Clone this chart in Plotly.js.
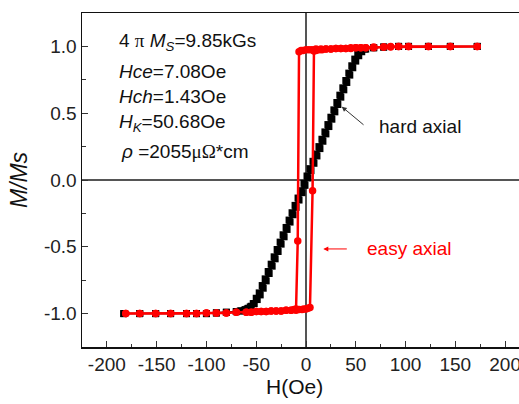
<!DOCTYPE html>
<html>
<head>
<meta charset="utf-8">
<script src="https://cdn.plot.ly/plotly-3.0.1.min.js"></script>
<style>
html, body { margin:0; padding:0; overflow:hidden; background:#fff; }
#chart { width:545px; height:404px; }
</style>
</head>
<body>
<div id="chart"></div>
<script>
// Hard axial (black) – descending and ascending branches
const hardDescH = [172,145,123,103,93,78,68,59,55,52,49,46,43,40,37,34,31,28,25,22,19,16,13,10,7,4,1,-2,-5,-8,-11,-14,-17,-20,-23,-26,-29,-32,-35,-38,-41,-44,-47,-50,-53,-56,-59,-62,-66,-70,-80,-90,-100,-110,-120,-136,-151,-167,-183];
const hardDescM = [1.0,1.0,1.0,1.0,1.0,0.995,0.99,0.98,0.965,0.94,0.905,0.855,0.80,0.745,0.69,0.635,0.58,0.525,0.47,0.415,0.36,0.305,0.25,0.195,0.14,0.085,0.03,-0.025,-0.08,-0.135,-0.19,-0.245,-0.30,-0.355,-0.41,-0.465,-0.52,-0.575,-0.63,-0.685,-0.74,-0.79,-0.845,-0.885,-0.925,-0.95,-0.965,-0.975,-0.98,-0.985,-0.99,-0.995,-1.0,-1.0,-1.0,-1.0,-1.0,-1.0,-1.0];
const hardAscH = [-183,-167,-151,-136,-120,-110,-100,-90,-80,-70,-65,-61,-58,-55,-52,-49,-46,-43,-40,-37,-34,-31,-28,-25,-22,-19,-16,-13,-10,-7,-4,-1,2,5,8,11,14,17,20,23,26,29,32,35,38,41,44,47,50,53,56,60,68,78,93,103,123,145,172];
const hardAscM = [-1.0,-1.0,-1.0,-1.0,-1.0,-1.0,-1.0,-0.995,-0.99,-0.985,-0.98,-0.97,-0.96,-0.945,-0.925,-0.895,-0.86,-0.81,-0.755,-0.70,-0.645,-0.59,-0.535,-0.48,-0.425,-0.37,-0.315,-0.26,-0.205,-0.15,-0.095,-0.04,0.015,0.07,0.125,0.18,0.235,0.29,0.345,0.40,0.455,0.51,0.565,0.62,0.675,0.73,0.785,0.84,0.89,0.93,0.96,0.98,0.99,0.995,1.0,1.0,1.0,1.0,1.0];

// Easy axial (red) – descending and ascending branches
const easyDescH = [172,145,123,103,93,85,78,68,60,55,50,45,40,35,30,25,20,15,10,6,3,0,-3,-5,-7,-8.3,-10,-12,-15,-20,-25,-30,-35,-40,-45,-50,-55,-60,-70,-80,-90,-100,-110,-120,-136,-151,-167,-181];
const easyDescM = [1.0,1.0,1.0,1.0,1.0,0.995,0.995,0.99,0.99,0.99,0.99,0.985,0.985,0.985,0.985,0.98,0.98,0.98,0.98,0.975,0.975,0.975,0.97,0.97,0.96,-0.457,-0.965,-0.97,-0.975,-0.975,-0.98,-0.98,-0.98,-0.985,-0.985,-0.985,-0.99,-0.99,-0.99,-0.995,-0.995,-0.995,-1.0,-1.0,-1.0,-1.0,-1.0,-1.0];
const easyAscH = [-181,-167,-151,-136,-120,-110,-100,-90,-80,-70,-60,-55,-50,-45,-40,-35,-30,-25,-20,-15,-10,-7,-4,-2,0,2,4,6.6,8,10,13,16,20,25,30,35,40,45,50,55,60,68,78,85,93,103,123,145,172];
const easyAscM = [-1.0,-1.0,-1.0,-1.0,-1.0,-1.0,-0.995,-0.995,-0.995,-0.99,-0.99,-0.99,-0.985,-0.985,-0.985,-0.98,-0.98,-0.98,-0.975,-0.975,-0.975,-0.97,-0.97,-0.965,-0.965,-0.96,-0.955,-0.08,0.965,0.97,0.975,0.975,0.98,0.98,0.985,0.985,0.985,0.99,0.99,0.99,0.99,0.995,0.995,1.0,1.0,1.0,1.0,1.0,1.0];

const xTickVals = [-200,-150,-100,-50,0,50,100,150,200];
const xTickText = ['-200','-150','-100','-50','0','50','100','150','200'];
const yTickVals = [-1.0,-0.5,0.0,0.5,1.0];
const yTickText = ['-1.0','-0.5','0.0','0.5','1.0'];

const FONT = 'Arial, "Liberation Sans", sans-serif';

const traces = [
  {
    x: hardDescH.concat(hardAscH),
    y: hardDescM.concat(hardAscM),
    mode: 'lines+markers',
    line: {color:'#000000', width:1.5},
    marker: {symbol:'square', size:7, color:'#000000'},
    hoverinfo:'skip', showlegend:false
  },
  {
    x: easyDescH.concat(easyAscH),
    y: easyDescM.concat(easyAscM),
    mode: 'lines+markers',
    line: {color:'#ff0000', width:2.5},
    marker: {symbol:'circle', size:7.5, color:'#ff0000'},
    hoverinfo:'skip', showlegend:false
  }
];

const txt = {family: FONT, size: 19, color:'#111'};
const layout = {
  width: 545, height: 404,
  margin: {l:82, r:15, t:13, b:57},
  paper_bgcolor:'#ffffff', plot_bgcolor:'#ffffff',
  showlegend:false,
  xaxis: {
    range:[-225,225], autorange:false,
    tickmode:'array', tickvals:xTickVals, ticktext:xTickText,
    ticks:'inside', ticklen:6, tickwidth:1, tickcolor:'#333',
    minor:{dtick:25, tick0:0, ticks:'inside', ticklen:3.5, tickwidth:1, tickcolor:'#333'},
    showline:true, linecolor:'#111', linewidth:1.5, mirror:true,
    showgrid:false,
    zeroline:true, zerolinecolor:'#555', zerolinewidth:1.2,
    tickfont:{family:FONT, size:19, color:'#222'}
  },
  yaxis: {
    range:[-1.25,1.25], autorange:false,
    tickmode:'array', tickvals:yTickVals, ticktext:yTickText,
    ticks:'inside', ticklen:6, tickwidth:1, tickcolor:'#333',
    minor:{dtick:0.25, tick0:0, ticks:'inside', ticklen:3.5, tickwidth:1, tickcolor:'#333'},
    showline:true, linecolor:'#111', linewidth:1.5, mirror:true,
    showgrid:false,
    zeroline:true, zerolinecolor:'#555', zerolinewidth:1.2,
    tickfont:{family:FONT, size:19, color:'#222'},
    title:{text:'<i>M/Ms</i>', font:{family:FONT, size:23, color:'#111'}, standoff:10}
  },
  annotations: [
    {x:0.4754, y:-0.117, xref:'paper', yref:'paper', xanchor:'center', yanchor:'middle', showarrow:false,
     font:{family:FONT, size:21, color:'#111'}, text:'H(Oe)'},
    {x:-190, y:1.035, xref:'x', yref:'y', xanchor:'left', yanchor:'middle', showarrow:false, font:txt,
     text:'4 <span style="font-family:\'Liberation Serif\',serif">π</span> <i>M</i><sub><i>S</i></sub>=9.85kGs'},
    {x:-190, y:0.81, xref:'x', yref:'y', xanchor:'left', yanchor:'middle', showarrow:false, font:txt,
     text:'<i>Hce</i>=7.08Oe'},
    {x:-190, y:0.623, xref:'x', yref:'y', xanchor:'left', yanchor:'middle', showarrow:false, font:txt,
     text:'<i>Hch</i>=1.43Oe'},
    {x:-190, y:0.43, xref:'x', yref:'y', xanchor:'left', yanchor:'middle', showarrow:false, font:txt,
     text:'<i>H</i><sub><i>K</i></sub>=50.68Oe'},
    {x:-188, y:0.212, xref:'x', yref:'y', xanchor:'left', yanchor:'middle', showarrow:false, font:txt,
     text:'<i>ρ</i> =2055<span style="font-family:\'Liberation Serif\',serif">μΩ</span>*cm'},
    {x:71, y:0.40, xref:'x', yref:'y', xanchor:'left', yanchor:'middle', showarrow:false,
     font:{family:FONT, size:19, color:'#111'}, text:'hard axial'},
    {x:35.9, y:0.549, ax:59.3, ay:0.404, xref:'x', yref:'y', axref:'x', ayref:'y', text:'',
     showarrow:true, arrowhead:2, arrowsize:1, arrowwidth:1, arrowcolor:'#333'},
    {x:59.3, y:-0.516, xref:'x', yref:'y', xanchor:'left', yanchor:'middle', showarrow:false,
     font:{family:FONT, size:19, color:'#ff0000'}, text:'easy axial'},
    {x:17.4, y:-0.516, ax:42.5, ay:-0.516, xref:'x', yref:'y', axref:'x', ayref:'y', text:'',
     showarrow:true, arrowhead:2, arrowsize:1, arrowwidth:1, arrowcolor:'#ff0000'}
  ]
};

Plotly.newPlot('chart', traces, layout, {displayModeBar:false, staticPlot:true});
</script>
</body>
</html>
